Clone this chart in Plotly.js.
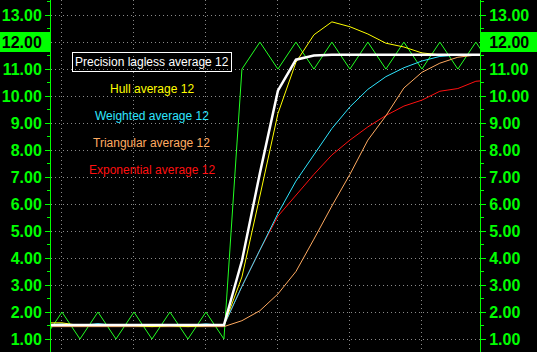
<!DOCTYPE html>
<html>
<head>
<meta charset="utf-8">
<script src="https://cdn.plot.ly/plotly-3.0.1.min.js"></script>
<style>html,body{margin:0;padding:0;background:#000;}#chart{width:537px;height:352px;}</style>
</head>
<body>
<div id="chart"></div>
<script>
// bar index (x)
const bars = [0,1,2,3,4,5,6,7,8,9,10,11,12,13,14,15,16,17,18,19,20,21,22,23,24,25];
// price series (green zigzag)
const price = [1,2,1,2,1,2,1,2,1,2,1, 11,12,11,12,11,12,11,12,11,12,11,12,11,12,11];
const precisionLagless = [1.52,1.52,1.52,1.52,1.52,1.52,1.52,1.52,1.52,1.52,1.52, 3.9,7.15,10.2,11.35,11.5,11.53,11.53,11.53,11.53,11.53,11.53,11.53,11.53,11.53,11.53];
const hull = [1.6,1.6,1.5,1.5,1.5,1.5,1.46,1.5,1.46,1.5,1.5, 3.3,6.3,9.35,11.25,12.27,12.75,12.57,12.3,11.96,11.82,11.6,11.53,11.53,11.53,11.53];
const weighted = [1.52,1.56,1.5,1.57,1.5,1.5,1.5,1.5,1.5,1.56,1.5, 2.95,4.3,5.65,6.85,7.85,8.8,9.6,10.25,10.72,11.05,11.3,11.47,11.52,11.53,11.53];
const triangular = [1.46,1.46,1.46,1.46,1.46,1.46,1.46,1.46,1.46,1.46,1.46, 1.68,2.05,2.67,3.5,4.7,5.93,7.1,8.37,9.27,10.3,10.88,11.22,11.44,11.52,11.53];
const exponential = [1.5,1.5,1.5,1.5,1.5,1.5,1.5,1.5,1.5,1.5,1.5, 2.95,4.3,5.55,6.33,7.1,7.82,8.37,8.86,9.28,9.63,9.85,10.18,10.28,10.55,10.6];

const seriesNames = ["Precision lagless average 12","Hull average 12","Weighted average 12","Triangular average 12","Exponential average 12"];
const seriesColors = ["#ffffff","#ffff00","#2ee6ff","#ffaa60","#ff1010"];
const legendY = [11.28,10.28,9.25,8.26,7.27];

const yTicks = [1,2,3,4,5,6,7,8,9,10,11,12,13];
const yTickText = yTicks.map(v => v === 12 ? '<span style="color:#000000">12.00</span>' : v.toFixed(2));

const GREEN = '#00ff00';

const traces = [
  {x: bars, y: price, type:'scatter', mode:'lines', line:{color:'#22ff22', width:1}, yaxis:'y', hoverinfo:'skip'},
  {x: bars, y: exponential, type:'scatter', mode:'lines', line:{color:seriesColors[4], width:1}, yaxis:'y2', hoverinfo:'skip'},
  {x: bars, y: triangular, type:'scatter', mode:'lines', line:{color:seriesColors[3], width:1}, yaxis:'y2', hoverinfo:'skip'},
  {x: bars, y: weighted, type:'scatter', mode:'lines', line:{color:seriesColors[2], width:1}, yaxis:'y2', hoverinfo:'skip'},
  {x: bars, y: hull, type:'scatter', mode:'lines', line:{color:seriesColors[1], width:1}, yaxis:'y2', hoverinfo:'skip'},
  {x: bars, y: precisionLagless, type:'scatter', mode:'lines', line:{color:seriesColors[0], width:2.5}, yaxis:'y2', hoverinfo:'skip'}
];

const yRange = [0.52, 13.56];
const yCommon = {
  range: yRange, tickmode:'array', tickvals: yTicks, ticktext: yTickText,
  ticks:'outside', ticklen:5, tickwidth:1, tickcolor:GREEN,
  showline:true, linecolor:GREEN, linewidth:1, zeroline:false,
  tickfont:{family:'Liberation Sans, Arial, sans-serif', size:16, color:GREEN, weight:700},
  minor:{tickmode:'linear', tick0:0.5, dtick:1, ticks:'outside', ticklen:3, tickcolor:GREEN, showgrid:false},
  fixedrange:true
};

const annotations = seriesNames.map((n,i) => {
  const a = {
    xref:'x', yref:'y', x:6, y:legendY[i], text:n, showarrow:false,
    font:{family:'Arial, Liberation Sans, sans-serif', size:12, color:seriesColors[i]},
    xanchor:'center', yanchor:'middle'
  };
  if (i === 0) { a.bordercolor = '#ffffff'; a.borderwidth = 1; a.borderpad = 2; }
  return a;
});

const plotW = 537 - 51 - 57;
const GRID = '#8a8a8a';
const layout = {
  width:537, height:352,
  paper_bgcolor:'#000000', plot_bgcolor:'#000000',
  margin:{l:51, r:57, t:0, b:0, pad:0},
  showlegend:false,
  xaxis:{range:[0.39,24.23], tickmode:'linear', tick0:1, dtick:4, showticklabels:false, ticks:'',
         showgrid:true, gridcolor:GRID, griddash:'1px,3px', gridwidth:1, zeroline:false, showline:false, fixedrange:true},
  yaxis: Object.assign({}, yCommon, {side:'left', showgrid:true, gridcolor:GRID, griddash:'1px,3px', gridwidth:1}),
  yaxis2: Object.assign({}, yCommon, {side:'right', overlaying:'y', showgrid:false}),
  shapes:[
    {type:'rect', layer:'below', xref:'paper', yref:'y', x0:-51/plotW, x1:-1/plotW, y0:12-10/27, y1:12+10/27, fillcolor:GREEN, line:{width:0}},
    {type:'rect', layer:'below', xref:'paper', yref:'y', x0:1+1/plotW, x1:1+57/plotW, y0:12-10/27, y1:12+10/27, fillcolor:GREEN, line:{width:0}}
  ],
  annotations: annotations
};

Plotly.newPlot('chart', traces, layout, {staticPlot:true, displayModeBar:false});
</script>
</body>
</html>
